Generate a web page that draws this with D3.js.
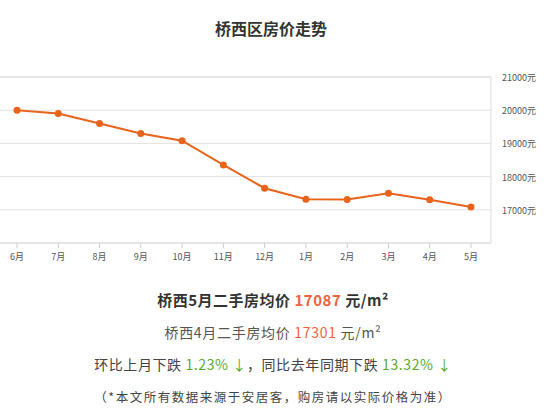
<!DOCTYPE html>
<html><head><meta charset="utf-8">
<script src="https://cdn.jsdelivr.net/npm/d3@7"></script>
<style>body{margin:0;background:#fff;font-family:"Noto Sans CJK SC","Noto Sans",sans-serif;}</style>
</head><body>
<svg id="c" width="546" height="414"></svg>
<script>
var months = ["6月","7月","8月","9月","10月","11月","12月","1月","2月","3月","4月","5月"];
var prices = [20000,19900,19600,19300,19080,18350,17650,17320,17310,17500,17301,17087];
var yTicks = [17000,18000,19000,20000,21000];

var svg = d3.select("#c");
var x = d3.scalePoint().domain(months).range([17,471]);
var y = d3.scaleLinear().domain([16000,21000]).range([243,77]);

svg.append("text").attr("x",271).attr("y",35).attr("text-anchor","middle")
  .attr("font-size",16).attr("font-weight","bold").attr("fill","#333").text("桥西区房价走势");

// grid
svg.selectAll(".g").data(yTicks).enter().append("line")
  .attr("x1",0).attr("x2",491).attr("y1",d=>y(d)).attr("y2",d=>y(d))
  .attr("stroke",d=>d==21000?"#ccc":"#e2e2e2");
svg.append("line").attr("x1",0).attr("x2",491).attr("y1",243).attr("y2",243).attr("stroke","#ccc");
svg.append("line").attr("x1",491).attr("x2",491).attr("y1",77).attr("y2",243).attr("stroke","#ddd");

svg.selectAll(".yl").data(yTicks).enter().append("text")
  .attr("x",502).attr("y",d=>y(d)+4).attr("font-size",9).attr("fill","#555")
  .text(d=>d+"元");

svg.selectAll(".tk").data(months).enter().append("line")
  .attr("x1",d=>x(d)).attr("x2",d=>x(d)).attr("y1",243).attr("y2",248).attr("stroke","#ccc");
svg.selectAll(".xl").data(months).enter().append("text")
  .attr("x",d=>x(d)).attr("y",260).attr("text-anchor","middle")
  .attr("font-size",9).attr("fill","#555").text(d=>d);

var line = d3.line().x((d,i)=>x(months[i])).y(d=>y(d));
svg.append("path").datum(prices).attr("d",line).attr("fill","none")
  .attr("stroke","#e8641c").attr("stroke-width",2);
svg.selectAll(".p").data(prices).enter().append("circle")
  .attr("cx",(d,i)=>x(months[i])).attr("cy",d=>y(d)).attr("r",3.5).attr("fill","#e8641c");

function line2(yy, parts, size, bold, ls){
  var t = svg.append("text").attr("x",273).attr("y",yy).attr("text-anchor","middle")
    .attr("font-size",size).attr("font-weight",bold?"bold":"normal")
    .attr("letter-spacing",ls||0);
  parts.forEach(p=>t.append("tspan").attr("fill",p[1]).text(p[0]));
}
line2(306,[["桥西5月二手房均价 ","#333"],["17087","#f0643c"],[" 元/m²","#333"]],15,true,0.5);
line2(338,[["桥西4月二手房均价 ","#555"],["17301","#f0643c"],[" 元/m²","#555"]],14,false,0.7);
line2(370,[["环比上月下跌 ","#444"],["1.23% ↓","#5aab2a"],["，同比去年同期下跌 ","#444"],["13.32% ↓","#5aab2a"]],14,false,0.6);
line2(402,[["（*本文所有数据来源于安居客，购房请以实际价格为准）","#444"]],12.5,false,1.5);
</script>
</body></html>
